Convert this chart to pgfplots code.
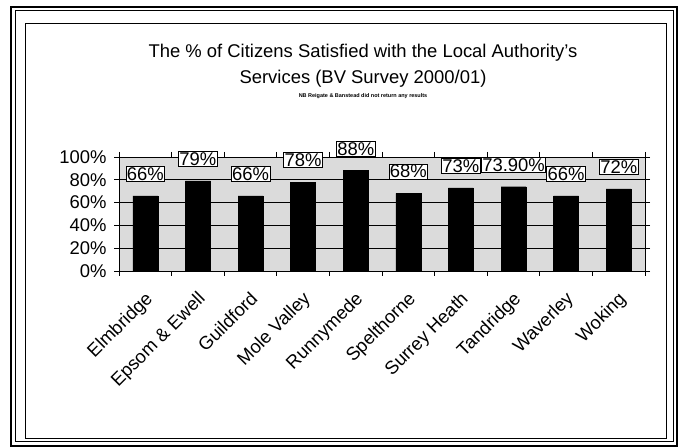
\documentclass[border=0pt]{standalone}
\usepackage{fontspec}
\setmainfont{Liberation Sans}
\usepackage{pgfplots}
\pgfplotsset{compat=1.18}
\begin{document}
\begin{tikzpicture}[x=1bp,y=1bp]
\useasboundingbox (0,0) rectangle (679,448);
\fill[white] (0,0) rectangle (679,448);
\draw[line width=2bp] (11,2) rectangle (677,441);
\draw[line width=1bp] (15,6) rectangle (673,437);
\draw[line width=0.8bp] (25,10) rectangle (666,425);
\node[font=\fontsize{18.5}{19}\selectfont] at (363,395) {The \% of Citizens Satisfied with the Local Authority's};
\node[font=\fontsize{18.5}{19}\selectfont] at (363,369) {Services (BV Survey 2000/01)};
\node[font=\fontsize{5.5}{6}\selectfont\bfseries] at (363,352) {NB Reigate \& Banstead did not return any results};
\begin{axis}[
  at={(119bp,177bp)}, anchor=south west,
  scale only axis, width=526bp, height=114bp,
  xmin=-0.5, xmax=9.5, ymin=0, ymax=100,
  clip=false,
  axis line style={black, line width=0.8bp},
  axis background/.style={fill=gray!28},
  xtick={0,...,9},
  xticklabels={Elmbridge,Epsom \& Ewell,Guildford,Mole Valley,Runnymede,Spelthorne,Surrey Heath,Tandridge,Waverley,Woking},
  minor xtick={-0.5,0.5,...,9.5},
  major x tick style={draw=none},
  minor x tick style={black, line width=0.8bp},
  minor tick length=5bp,
  ytick={0,20,40,60,80,100},
  yticklabel={\pgfmathprintnumber{\tick}\%},
  major tick length=5bp,
  tick align=outside,
  tick style={black, line width=0.8bp},
  ymajorgrids,
  grid style={black, line width=0.8bp},
  /pgf/number format/assume math mode=true,
  ticklabel style={font=\fontsize{18.5}{19}\selectfont},
  xticklabel style={rotate=45, anchor=north east, inner sep=1bp, yshift=-8bp, xshift=-10bp},
  yticklabel style={xshift=-4bp},
]
\addplot[ybar, bar width=25bp, fill=black, draw=black,
  point meta=explicit symbolic,
  nodes near coords,
  every node near coord/.append style={draw=black, fill=white, line width=0.6bp,
     font=\fontsize{18.5}{19}\selectfont, inner sep=1bp, anchor=south, yshift=14bp}]
coordinates {
(0,66) [66\%]
(1,79) [79\%]
(2,66) [66\%]
(3,78) [78\%]
(4,88) [88\%]
(5,68) [68\%]
(6,73) [73\%]
(7,73.9) [73.90\%]
(8,66) [66\%]
(9,72) [72\%]
};
\end{axis}
\end{tikzpicture}
\end{document}
